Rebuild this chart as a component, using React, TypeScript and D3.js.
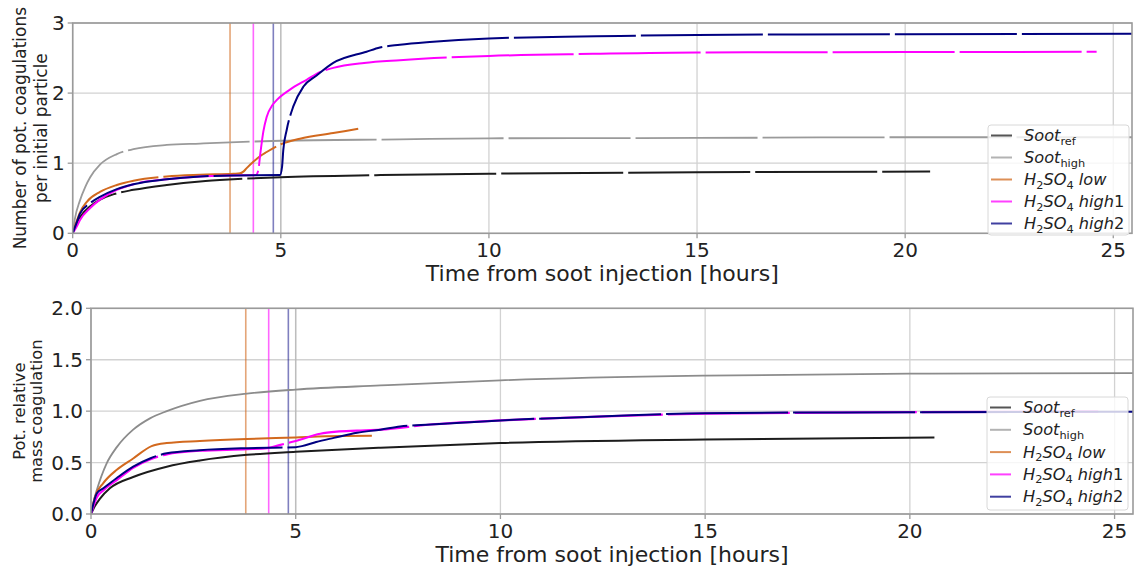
import React from "react";
import * as d3 from "d3";

type Pt = [number, number];

// ---- shared axis settings ----
const X_MAX = 25.45;
const xTickValues = [0, 5, 10, 15, 20, 25];
const topYTicks = [0, 1, 2, 3];
const bottomYTicks = [0, 0.5, 1.0, 1.5, 2.0];

// onset markers (hours)
const onsetLow = 3.78;
const onsetHigh1 = 4.34;
const onsetHigh2 = 4.82;
const onsetRef = 5.0;

// ---- top panel: number of potential coagulations per initial particle ----
const topSootRef: Pt[] = [
  [0, 0], [0.1, 0.15], [0.2, 0.25], [0.43, 0.39], [0.66, 0.48], [1.0, 0.56],
  [1.46, 0.62], [2.26, 0.69], [3.06, 0.74], [3.86, 0.77], [5, 0.8],
  [7.4, 0.83], [10, 0.85], [15, 0.87], [20.6, 0.88],
];
const topSootHigh: Pt[] = [
  [0, 0], [0.05, 0.2], [0.175, 0.47], [0.3, 0.66], [0.42, 0.8], [0.655, 0.98],
  [1.06, 1.13], [1.46, 1.2], [2.26, 1.26], [3.06, 1.28], [5, 1.32],
  [7.86, 1.34], [10, 1.355], [15, 1.36], [20, 1.37], [25.45, 1.37],
];
const topLow: Pt[] = [
  [0, 0], [0.1, 0.18], [0.175, 0.3], [0.34, 0.45], [0.655, 0.59], [1.06, 0.69],
  [1.46, 0.75], [2.26, 0.81], [3.06, 0.835], [3.86, 0.85], [4.02, 0.855],
  [4.1, 0.88], [4.18, 0.93], [4.34, 1.02], [4.5, 1.1], [4.66, 1.16],
  [5.0, 1.27], [5.46, 1.35], [6.26, 1.43], [6.86, 1.49],
];
const topHigh1: Pt[] = [
  [0, 0], [0.1, 0.1], [0.175, 0.19], [0.42, 0.36], [0.655, 0.48], [1.06, 0.62],
  [1.46, 0.7], [2.26, 0.77], [3.06, 0.81], [3.86, 0.825], [4.4, 0.83],
  [4.46, 0.9], [4.5, 1.1], [4.58, 1.45], [4.66, 1.66], [4.8, 1.83],
  [4.9, 1.9], [5.22, 2.05], [5.62, 2.19], [5.94, 2.3], [6.26, 2.36],
  [7.0, 2.43], [7.86, 2.47], [10, 2.53], [12.5, 2.56], [15, 2.58],
  [20, 2.585], [24.6, 2.59],
];
const topHigh2: Pt[] = [
  [0, 0], [0.1, 0.16], [0.175, 0.28], [0.42, 0.43], [0.655, 0.52], [1.06, 0.63],
  [1.46, 0.7], [2.26, 0.77], [3.06, 0.81], [3.86, 0.825], [4.98, 0.83],
  [5.03, 0.95], [5.06, 1.19], [5.14, 1.47], [5.3, 1.81], [5.54, 2.09],
  [5.86, 2.25], [6.26, 2.43], [7.06, 2.59], [7.38, 2.65], [7.86, 2.69],
  [8.58, 2.73], [10, 2.78], [12.58, 2.81], [15, 2.83], [20, 2.84], [25.45, 2.845],
];

// ---- bottom panel: potential relative mass coagulation ----
const bottomSootRef: Pt[] = [
  [0, 0], [0.1, 0.08], [0.22, 0.15], [0.46, 0.25], [1.03, 0.36], [1.85, 0.46],
  [2.66, 0.52], [3.81, 0.575], [5, 0.605], [7.07, 0.645], [10, 0.69],
  [15, 0.725], [20.6, 0.745],
];
const bottomSootHigh: Pt[] = [
  [0, 0], [0.05, 0.1], [0.14, 0.23], [0.38, 0.49], [0.63, 0.65], [1.03, 0.82],
  [1.44, 0.93], [1.85, 1.0], [2.66, 1.1], [3.81, 1.17], [5, 1.21],
  [7.07, 1.25], [10, 1.3], [15, 1.345], [20, 1.365], [25.45, 1.37],
];
const bottomLow: Pt[] = [
  [0, 0], [0.1, 0.17], [0.3, 0.3], [0.63, 0.43], [1.03, 0.54], [1.48, 0.66],
  [1.85, 0.69], [2.66, 0.71], [3.81, 0.73], [5, 0.745], [5.74, 0.755], [6.86, 0.76],
];
const bottomHigh1: Pt[] = [
  [0, 0], [0.14, 0.16], [0.3, 0.23], [0.63, 0.33], [1.03, 0.45], [1.44, 0.53],
  [1.85, 0.58], [2.66, 0.615], [3.81, 0.63], [4.3, 0.64], [4.6, 0.67],
  [5.0, 0.71], [5.6, 0.78], [6.0, 0.8], [6.5, 0.81], [7.07, 0.82],
  [8.29, 0.87], [10, 0.91], [12.57, 0.95], [15, 0.975], [20, 0.99], [24.6, 0.995],
];
const bottomHigh2: Pt[] = [
  [0, 0], [0.14, 0.2], [0.3, 0.25], [0.63, 0.35], [1.03, 0.46], [1.44, 0.54],
  [1.85, 0.59], [2.66, 0.62], [3.81, 0.64], [5.0, 0.65], [5.15, 0.66],
  [5.5, 0.7], [5.93, 0.74], [6.5, 0.79], [7.07, 0.82], [7.55, 0.85],
  [8.29, 0.87], [10, 0.91], [12.57, 0.95], [15, 0.98], [20, 0.99], [25.45, 0.995],
];

// ---- styling ----
const FONT = "DejaVu Sans, Liberation Sans, sans-serif";
const C_REF = "#1c1c1c";
const C_HIGH = "#9a9a9a";
const C_LOW = "#d2691e";
const C_H1 = "#ff00ff";
const C_H2 = "#000080";
const GRID = "#d2d2d2";
const SPINE = "#9a9a9a";
const LEGEND_SIZE = 16.2;

type LabelPart = { t: string; sub?: boolean; upright?: boolean };
type SeriesDef = {
  key: string;
  data: Pt[];
  color: string;
  width: number;
  dash?: string;
  offset?: number;
};

const legendLabels: { color: string; parts: LabelPart[] }[] = [
  { color: C_REF, parts: [{ t: "Soot" }, { t: "ref", sub: true, upright: true }] },
  { color: C_HIGH, parts: [{ t: "Soot" }, { t: "high", sub: true, upright: true }] },
  { color: C_LOW, parts: [{ t: "H" }, { t: "2", sub: true, upright: true }, { t: "SO" }, { t: "4", sub: true, upright: true }, { t: " low" }] },
  { color: C_H1, parts: [{ t: "H" }, { t: "2", sub: true, upright: true }, { t: "SO" }, { t: "4", sub: true, upright: true }, { t: " high" }, { t: "1", upright: true }] },
  { color: C_H2, parts: [{ t: "H" }, { t: "2", sub: true, upright: true }, { t: "SO" }, { t: "4", sub: true, upright: true }, { t: " high" }, { t: "2", upright: true }] },
];

type PanelCfg = {
  left: number; right: number; top: number; bottom: number;
  yMax: number; yTicks: number[]; yFmt: (v: number) => string;
  series: SeriesDef[];
  yLabel: string[]; yLabelX: number[]; yLabelSize: number;
  legend: { x: number; y: number; w: number; h: number; row: number };
};

const DASH = "122 5";

const panels: PanelCfg[] = [
  {
    left: 72.7, right: 1132, top: 23, bottom: 233.3,
    yMax: 3, yTicks: topYTicks, yFmt: (v) => d3.format("d")(v),
    series: [
      { key: "ref", data: topSootRef, color: C_REF, width: 2, dash: DASH, offset: 60 },
      { key: "high", data: topSootHigh, color: C_HIGH, width: 1.8, dash: DASH, offset: 20 },
      { key: "low", data: topLow, color: C_LOW, width: 2, dash: DASH, offset: 10 },
      { key: "h1", data: topHigh1, color: C_H1, width: 2, dash: DASH, offset: 40 },
      { key: "h2", data: topHigh2, color: C_H2, width: 2, dash: DASH, offset: 90 },
    ],
    yLabel: ["Number of pot. coagulations", "per initial particle"],
    yLabelX: [26, 47], yLabelSize: 17,
    legend: { x: 988, y: 125, w: 141, h: 110, row: 22 },
  },
  {
    left: 91, right: 1133, top: 308.3, bottom: 514,
    yMax: 2, yTicks: bottomYTicks, yFmt: (v) => d3.format(".1f")(v),
    series: [
      { key: "ref", data: bottomSootRef, color: C_REF, width: 2 },
      { key: "high", data: bottomSootHigh, color: "#8c8c8c", width: 1.8 },
      { key: "low", data: bottomLow, color: C_LOW, width: 2 },
      { key: "h1", data: bottomHigh1, color: C_H1, width: 2.2, dash: DASH, offset: 30 },
      { key: "h2", data: bottomHigh2, color: C_H2, width: 2, dash: DASH, offset: 30 },
    ],
    yLabel: ["Pot. relative", "mass coagulation"],
    yLabelX: [25, 42], yLabelSize: 16.3,
    legend: { x: 987, y: 397, w: 141, h: 113, row: 22.3 },
  },
];

const onsets = [
  { t: onsetLow, color: C_LOW, opacity: 0.6 },
  { t: onsetHigh1, color: C_H1, opacity: 0.6 },
  { t: onsetHigh2, color: C_H2, opacity: 0.5 },
  { t: onsetRef, color: "#888888", opacity: 0.3 },
];

function LegendText({ parts, x, y, size }: { parts: LabelPart[]; x: number; y: number; size: number }) {
  const spans: React.ReactNode[] = [];
  let shifted = false;
  parts.forEach((p, i) => {
    let dy = 0;
    if (p.sub && !shifted) { dy = size * 0.22; shifted = true; }
    else if (!p.sub && shifted) { dy = -size * 0.22; shifted = false; }
    spans.push(
      <tspan
        key={i}
        dy={dy}
        fontStyle={p.upright ? "normal" : "italic"}
        fontSize={p.sub ? size * 0.7 : size}
      >
        {p.t}
      </tspan>
    );
  });
  return (
    <text x={x} y={y} fontFamily={FONT} fill="#222" style={{ whiteSpace: "pre" }}>
      {spans}
    </text>
  );
}

function Panel({ cfg }: { cfg: PanelCfg }) {
  const x = d3.scaleLinear().domain([0, X_MAX]).range([cfg.left, cfg.right]);
  const y = d3.scaleLinear().domain([0, cfg.yMax]).range([cfg.bottom, cfg.top]);
  const line = d3
    .line<Pt>()
    .x((d) => x(d[0]))
    .y((d) => y(d[1]))
    .curve(d3.curveMonotoneX);
  const clipId = `clip-${cfg.top}`;
  const lg = cfg.legend;

  return (
    <g>
      <defs>
        <clipPath id={clipId}>
          <rect x={cfg.left} y={cfg.top} width={cfg.right - cfg.left} height={cfg.bottom - cfg.top} />
        </clipPath>
      </defs>
      {/* grid */}
      {xTickValues.map((t) => (
        <line key={`gx${t}`} x1={x(t)} x2={x(t)} y1={cfg.top} y2={cfg.bottom} stroke={GRID} strokeWidth={1.3} />
      ))}
      {cfg.yTicks.map((t) => (
        <line key={`gy${t}`} x1={cfg.left} x2={cfg.right} y1={y(t)} y2={y(t)} stroke={GRID} strokeWidth={1.3} />
      ))}
      <g clipPath={`url(#${clipId})`}>
        {/* onset markers */}
        {onsets.map((o) => (
          <line key={`v${o.t}`} x1={x(o.t)} x2={x(o.t)} y1={cfg.top} y2={cfg.bottom}
            stroke={o.color} strokeOpacity={o.opacity} strokeWidth={1.6} />
        ))}
        {/* series */}
        {cfg.series.map((s) => (
          <path key={s.key} d={line(s.data) ?? ""} fill="none" stroke={s.color}
            strokeWidth={s.width} strokeDasharray={s.dash} strokeDashoffset={s.offset ?? 0}
            strokeLinejoin="round" />
        ))}
      </g>
      {/* spines */}
      <rect x={cfg.left} y={cfg.top} width={cfg.right - cfg.left} height={cfg.bottom - cfg.top}
        fill="none" stroke={SPINE} strokeWidth={1.6} />
      {/* x ticks */}
      {xTickValues.map((t) => (
        <g key={`xt${t}`}>
          <line x1={x(t)} x2={x(t)} y1={cfg.bottom} y2={cfg.bottom + 5} stroke={SPINE} strokeWidth={1.3} />
          <text x={x(t)} y={cfg.bottom + 23.5} textAnchor="middle" fontFamily={FONT} fontSize={20} fill="#222">
            {t}
          </text>
        </g>
      ))}
      {/* y ticks */}
      {cfg.yTicks.map((t) => (
        <g key={`yt${t}`}>
          <line x1={cfg.left - 5} x2={cfg.left} y1={y(t)} y2={y(t)} stroke={SPINE} strokeWidth={1.3} />
          <text x={cfg.left - 8} y={y(t) + 7} textAnchor="end" fontFamily={FONT} fontSize={20} fill="#222">
            {cfg.yFmt(t)}
          </text>
        </g>
      ))}
      {/* x label */}
      <text x={(cfg.left + cfg.right) / 2} y={cfg.bottom + 48} textAnchor="middle" fontFamily={FONT}
        fontSize={22} fill="#222">
        Time from soot injection [hours]
      </text>
      {/* y label */}
      {cfg.yLabel.map((s, i) => {
        const cy = (cfg.top + cfg.bottom) / 2;
        return (
          <text key={s} transform={`translate(${cfg.yLabelX[i]},${cy}) rotate(-90)`} textAnchor="middle"
            fontFamily={FONT} fontSize={cfg.yLabelSize} fill="#222">
            {s}
          </text>
        );
      })}
      {/* legend */}
      <rect x={lg.x} y={lg.y} width={lg.w} height={lg.h} rx={3} fill="#fff" fillOpacity={0.8}
        stroke="#d8d8d8" strokeWidth={1} />
      {legendLabels.map((l, i) => {
        const cy = lg.y + 10.5 + i * lg.row;
        return (
          <g key={`lg${i}`}>
            <line x1={lg.x + 3} x2={lg.x + 24} y1={cy} y2={cy} stroke={l.color} strokeOpacity={0.75} strokeWidth={2} />
            <LegendText parts={l.parts} x={lg.x + 36} y={cy + 5.5} size={LEGEND_SIZE} />
          </g>
        );
      })}
    </g>
  );
}

export default function App() {
  return (
    <div style={{ position: "absolute", left: 0, top: 0, width: 1135, height: 570, background: "#fff" }}>
      <svg width={1135} height={570} viewBox="0 0 1135 570" style={{ display: "block" }}>
        <rect width={1135} height={570} fill="#fff" />
        {panels.map((p, i) => (
          <Panel key={i} cfg={p} />
        ))}
      </svg>
    </div>
  );
}
